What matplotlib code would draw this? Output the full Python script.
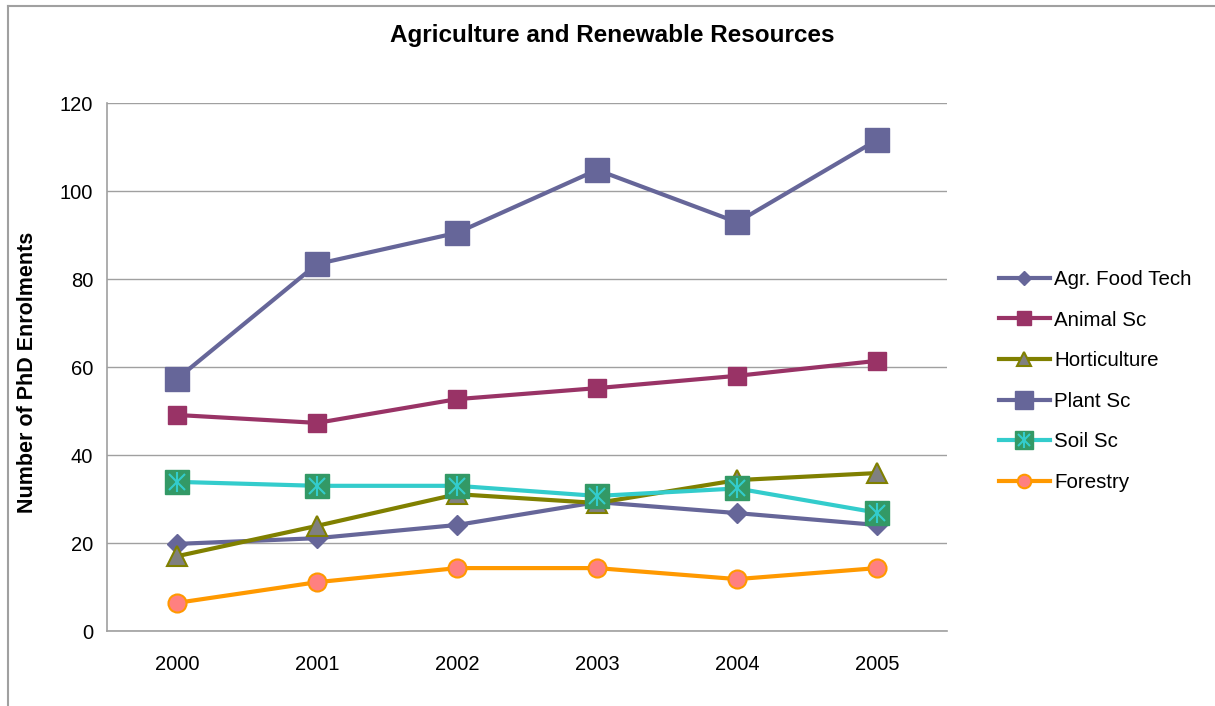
import matplotlib.pyplot as plt
from matplotlib.lines import Line2D
from matplotlib.legend_handler import HandlerTuple

years = ["2000", "2001", "2002", "2003", "2004", "2005"]

agr_food_tech = [19.8, 21.1, 24.1, 29.3, 26.8, 24.1]
animal_sc = [49.1, 47.3, 52.7, 55.2, 58.0, 61.4]
horticulture = [17.0, 23.9, 31.1, 29.1, 34.3, 35.9]
plant_sc = [57.3, 83.4, 90.5, 104.8, 92.9, 111.6]
soil_sc = [33.9, 33.0, 33.0, 30.7, 32.4, 26.9]
forestry = [6.4, 11.1, 14.3, 14.3, 11.8, 14.3]


def main():
    plt.rcParams["font.family"] = ["Liberation Sans", "DejaVu Sans"]
    fig = plt.figure(figsize=(12.15, 7.06), dpi=100)
    ax = fig.add_axes([0.0881, 0.1062, 0.6914, 0.7479])

    x = list(range(len(years)))
    lw = 3

    h_agr, = ax.plot(x, agr_food_tech, color="#666699", lw=lw, marker="D",
                     ms=10, mfc="#666699", mec="#666699")
    h_ani, = ax.plot(x, animal_sc, color="#993366", lw=lw, marker="s",
                     ms=12.5, mfc="#993366", mec="#993366")
    h_hor, = ax.plot(x, horticulture, color="#808000", lw=lw, marker="^",
                     ms=14, mfc="#808080", mec="#808000", mew=1.5)
    h_pla, = ax.plot(x, plant_sc, color="#666699", lw=lw, marker="s",
                     ms=17, mfc="#666699", mec="#666699")
    h_soi, = ax.plot(x, soil_sc, color="#33CCCC", lw=lw, marker="s",
                     ms=17, mfc="#339966", mec="#339966")
    h_sx, = ax.plot(x, soil_sc, ls="none", marker="x", ms=11,
                    mec="#33CCCC", mew=1.5)
    h_sv, = ax.plot(x, soil_sc, ls="none", marker="|", ms=15,
                    mec="#33CCCC", mew=1.5)
    h_for, = ax.plot(x, forestry, color="#FF9900", lw=lw, marker="o",
                     ms=13, mfc="#FF8080", mec="#FF9900", mew=1.5)

    ax.set_xlim(-0.5, len(years) - 0.5)
    ax.set_ylim(0, 120)
    ax.set_yticks(range(0, 121, 20))
    ax.set_xticks(x)
    ax.set_xticklabels(years)
    ax.tick_params(axis="both", length=0, labelsize=14.5)
    ax.tick_params(axis="y", pad=10)
    ax.tick_params(axis="x", pad=17)
    ax.yaxis.grid(True, color="#A0A0A0", lw=1)
    ax.set_axisbelow(True)
    for side in ("top", "right"):
        ax.spines[side].set_visible(False)
    for side in ("left", "bottom"):
        ax.spines[side].set_color("#A0A0A0")
        ax.spines[side].set_linewidth(1.2)

    fig.text(28 / 1215, 1 - 372.5 / 706, "Number of PhD Enrolments",
             rotation=90, ha="center", va="center", fontsize=15.5,
             fontweight="bold")
    fig.text(0.504, 0.950, "Agriculture and Renewable Resources",
             ha="center", va="center", fontsize=17.5, fontweight="bold")

    handles = [h_agr, h_ani, h_hor, h_pla, (h_soi, h_sx, h_sv), h_for]
    labels = ["Agr. Food Tech", "Animal Sc", "Horticulture", "Plant Sc",
              "Soil Sc", "Forestry"]
    fig.legend(handles, labels, loc="center left",
               bbox_to_anchor=(0.822, 0.4603), frameon=False, fontsize=14.8,
               handlelength=2.5, handletextpad=0.2, labelspacing=1.05,
               borderpad=0, borderaxespad=0, markerscale=0.75,
               handler_map={tuple: HandlerTuple(ndivide=1)})

    # outer chart frame (left and top edges)
    fig.add_artist(Line2D([8 / 1215, 8 / 1215], [0, 1 - 6 / 706],
                          color="#A0A0A0", lw=1.5, transform=fig.transFigure))
    fig.add_artist(Line2D([8 / 1215, 1], [1 - 6 / 706, 1 - 6 / 706],
                          color="#A0A0A0", lw=1.5, transform=fig.transFigure))

    fig.savefig("out.png", dpi=100)


if __name__ == "__main__":
    main()
